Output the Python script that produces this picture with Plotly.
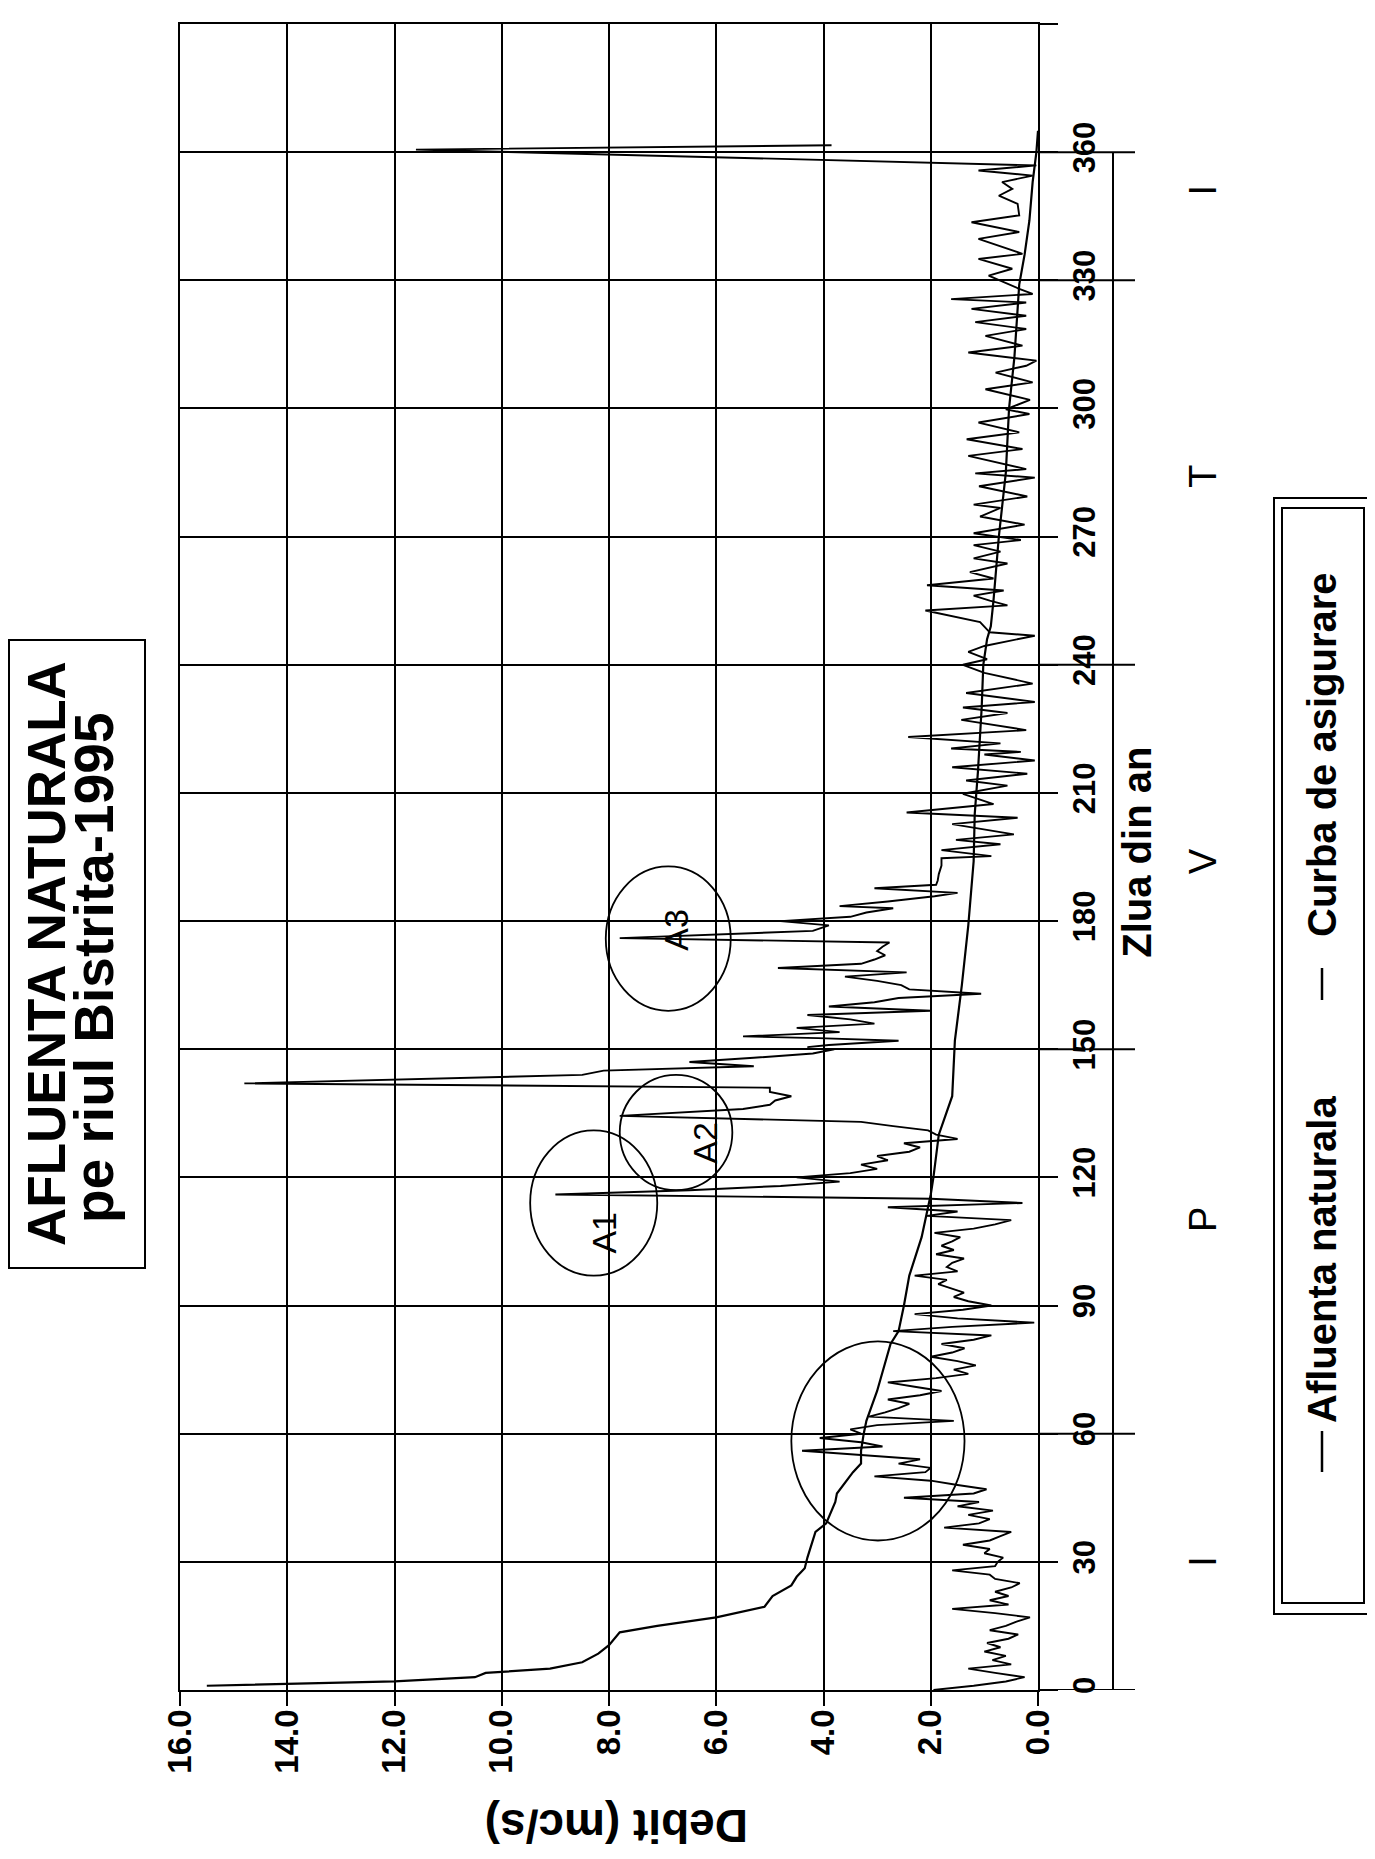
import plotly.graph_objects as go

# ---------------- data ----------------
zile_afluenta = [
    0, 1, 2, 3, 4, 5, 6, 7, 8, 9, 10, 11, 12, 13, 14, 15, 16, 17, 18, 19,
    20, 21, 22, 23, 24, 25, 26, 27, 28, 29, 30, 31, 32, 33, 34, 35, 36, 37, 38, 39,
    40, 41, 42, 43, 44, 45, 46, 47, 48, 49, 50, 51, 52, 53, 54, 55, 56, 57, 58, 59,
    60, 61, 62, 63, 64, 65, 66, 67, 68, 69, 70, 71, 72, 73, 74, 75, 76, 77, 78, 79,
    80, 81, 82, 83, 84, 85, 86, 87, 88, 89, 90, 91, 92, 93, 94, 95, 96, 97, 98, 99,
    100, 101, 102, 103, 104, 105, 106, 107, 108, 109, 110, 111, 112, 113, 114, 115, 116, 117, 118, 119,
    120, 121, 122, 123, 124, 125, 126, 127, 128, 129, 130, 131, 132, 133, 134.4, 136, 137, 138, 139, 140,
    141, 142, 144, 145, 146, 147, 148, 149, 150, 150.5, 151, 152, 152.6, 153, 154, 155, 156, 157, 158, 159,
    160, 161, 162, 163, 164, 165, 166, 167, 168, 169, 170, 171, 172, 173, 174, 175, 176, 177.7, 179, 180,
    181, 182, 183, 183.5, 184.6, 185.8, 186.6, 187.7, 188.5, 189.5, 191, 193, 194.7, 195.2, 196.6, 198, 199, 200.3, 202.7, 204.2,
    205.4, 207.4, 209.8, 211.7, 212.9, 214.5, 216, 217.6, 219, 219.6, 220.4, 221.6, 223.1, 224.7, 227.1, 228.7, 230, 231.3, 233.4, 235.6,
    238.1, 240, 241.3, 243, 244.4, 246.8, 247.6, 250, 252.7, 253.9, 255, 256.2, 257.4, 258.6, 260.2, 261.7, 263.7, 264.9, 266.5, 268,
    269.2, 270.8, 272.8, 274.7, 276.7, 277.5, 279.4, 281.8, 283.8, 284.8, 285.8, 288.9, 290.5, 292.8, 294.4, 296.7, 298.7, 299.8, 302, 304.5,
    306.1, 308.4, 310, 311.2, 313.1, 314.7, 317, 318.6, 320.2, 321.7, 323.3, 324.8, 325.6, 326.8, 328, 331.1, 332.7, 335, 336.2, 339.7,
    341.3, 343.6, 345.2, 347.9, 349.8, 351.4, 353, 354.5, 355.7, 356.9, 360.6, 361.6,
]
debit_afluenta = [
    1.95, 1.2, 0.6, 0.25, 0.8, 1.3, 0.5, 0.85, 0.6, 1.0, 0.7, 0.95, 0.55, 0.37, 0.9, 0.6, 0.4, 0.15, 0.8, 1.6,
    0.55, 0.9, 0.55, 0.8, 0.5, 0.34, 0.8, 0.9, 1.6, 0.8, 0.75, 0.65, 1.0, 0.9, 1.4, 0.9, 0.7, 0.5, 1.75, 1.1,
    0.9, 1.3, 0.84, 1.5, 1.1, 2.5, 1.2, 0.96, 1.5, 2.0, 3.05, 2.1, 2.0, 2.6, 2.2, 3.4, 4.4, 2.9, 3.3, 4.07,
    3.3, 3.5, 3.0, 1.57, 3.15, 2.85, 2.6, 2.4, 2.8, 2.2, 1.8, 2.3, 2.8, 1.9, 1.3, 1.57, 1.16, 1.5, 2.0, 1.6,
    1.37, 1.8, 1.2, 0.87, 2.7, 1.6, 0.07, 1.5, 2.3, 1.4, 0.87, 1.3, 1.57, 1.38, 1.6, 1.86, 1.7, 2.3, 1.5, 1.7,
    1.6, 1.38, 1.9, 1.57, 1.8, 1.6, 1.45, 1.93, 1.2, 0.8, 0.5, 2.07, 1.5, 2.8, 0.29, 2.0, 9.0, 6.5, 4.8, 3.7,
    4.5, 3.5, 3.0, 3.3, 2.8, 3.0, 2.4, 2.2, 2.5, 1.5, 1.9, 2.05, 2.7, 3.3, 7.8, 5.5, 5.0, 4.9, 4.6, 5.0,
    5.0, 14.8, 8.5, 8.1, 5.3, 6.5, 5.3, 4.2, 3.8, 4.3, 3.9, 2.6, 4.1, 5.5, 3.7, 4.5, 3.05, 3.5, 4.3, 2.0,
    3.9, 3.05, 2.6, 1.06, 2.4, 2.55, 3.0, 3.6, 2.45, 4.85, 3.3, 3.05, 2.85, 3.0, 2.9, 2.77, 7.8, 4.2, 3.9, 4.8,
    3.5, 3.2, 2.7, 3.7, 2.8, 1.93, 1.5, 3.05, 1.9, 1.87, 1.85, 1.8, 1.8, 0.87, 1.8, 0.7, 1.53, 0.45, 1.6, 0.38,
    2.45, 0.83, 1.4, 0.57, 1.34, 0.2, 1.6, 0.06, 1.0, 0.32, 1.62, 0.7, 2.42, 0.22, 1.43, 0.57, 1.4, 0.06, 1.34, 0.1,
    1.0, 1.4, 0.95, 1.3, 1.0, 0.06, 0.9, 1.08, 2.1, 0.57, 0.9, 1.2, 0.64, 2.07, 0.83, 1.27, 0.57, 1.2, 0.7, 1.2,
    0.32, 1.2, 0.25, 1.08, 0.7, 1.2, 0.2, 1.1, 0.06, 1.17, 0.22, 1.3, 0.29, 1.33, 0.35, 1.11, 0.16, 0.6, 0.15, 0.98,
    0.1, 0.79, 0.22, 0.03, 1.3, 0.29, 0.98, 0.22, 1.17, 0.22, 1.24, 0.22, 1.62, 0.1, 0.35, 0.92, 0.48, 1.11, 0.29, 1.11,
    0.35, 1.24, 0.35, 0.38, 0.73, 0.48, 0.67, 0.1, 1.11, 0.03, 11.6, 3.85,
]

zile_curba = [1, 2, 3, 4, 5, 6.5, 8.5, 10.5, 13.5, 15, 17, 19.5, 22, 24.5, 26.5, 28.5, 31, 37, 39, 44,
              46, 49, 51, 53, 56, 60, 63, 70, 81, 84, 90, 97, 106, 116, 120, 130, 139, 152, 165, 179,
              194, 205, 215, 230, 240, 246, 249, 255, 270, 285, 300, 312, 329, 336, 344, 353, 360, 365]
debit_curba = [15.5, 12.0, 10.5, 10.3, 9.1, 8.5, 8.2, 8.0, 7.8, 7.1, 6.0, 5.1, 4.95, 4.6, 4.5, 4.35, 4.3, 4.15, 3.95, 3.78,
               3.75, 3.58, 3.45, 3.3, 3.3, 3.25, 3.2, 3.0, 2.75, 2.6, 2.5, 2.4, 2.17, 2.0, 1.95, 1.85, 1.6, 1.55, 1.42, 1.3,
               1.2, 1.18, 1.12, 1.05, 1.02, 0.95, 0.88, 0.83, 0.73, 0.6, 0.54, 0.44, 0.35, 0.25, 0.16, 0.1, 0.03, 0.0]

debit_ticks = [0, 2, 4, 6, 8, 10, 12, 14, 16]
debit_labels = ["0.0", "2.0", "4.0", "6.0", "8.0", "10.0", "12.0", "14.0", "16.0"]
zile_ticks = list(range(0, 391, 30))
zile_labels = [str(v) for v in zile_ticks]

anotimpuri = ["I", "P", "V", "T", "I"]
anotimpuri_zile = [30, 110, 194, 284, 351]
limite_anotimpuri = [0, 60, 150, 240, 330, 360]

# ---------------- layout geometry ----------------
# page has an 8px body margin; figure is sized so the page fits the window
OFF = 8
FW, FH = 1375 - 2 * OFF, 1859 - 2 * OFF
# plot box in page pixels
L, R, T, B = 180, 1038, 24, 1690
FONT = "Liberation Sans, Arial, sans-serif"


def px(x):
    return (x - L) / (R - L)


def py(y):
    return (B - y) / (B - T)


fig = go.Figure()
fig.add_trace(go.Scatter(x=debit_afluenta, y=zile_afluenta, mode="lines",
                         line=dict(color="black", width=1.9), name="Afluenta naturala"))
fig.add_trace(go.Scatter(x=debit_curba, y=zile_curba, mode="lines",
                         line=dict(color="black", width=2.2), name="Curba de asigurare"))

shapes = []
# season bracket
shapes.append(dict(type="line", xref="paper", yref="y", x0=px(1113), x1=px(1113), y0=0, y1=360,
                   line=dict(color="black", width=2)))
for d in limite_anotimpuri:
    shapes.append(dict(type="line", xref="paper", yref="y", x0=px(1038), x1=px(1135), y0=d, y1=d,
                       line=dict(color="black", width=2)))
# ellipses
for (xa, xb, ya, yb) in [(9.47, 7.1, 97, 131), (7.8, 5.7, 117, 144), (8.06, 5.73, 159, 192.8), (4.6, 1.37, 35, 81.6)]:
    shapes.append(dict(type="circle", xref="x", yref="y", x0=xa, x1=xb, y0=ya, y1=yb,
                       line=dict(color="black", width=1.8)))
# title box
shapes.append(dict(type="rect", xref="paper", yref="paper", x0=px(9), x1=px(145), y0=py(1268), y1=py(640),
                   line=dict(color="black", width=2)))
# legend boxes
shapes.append(dict(type="rect", xref="paper", yref="paper", x0=px(1274), x1=px(1390), y0=py(1614), y1=py(498),
                   line=dict(color="black", width=2)))
shapes.append(dict(type="rect", xref="paper", yref="paper", x0=px(1282), x1=px(1364), y0=py(1603), y1=py(508),
                   line=dict(color="black", width=2)))
# legend dashes
for (ya, yb) in [(1431, 1472), (968, 1000)]:
    shapes.append(dict(type="line", xref="paper", yref="paper", x0=px(1322), x1=px(1322), y0=py(ya), y1=py(yb),
                       line=dict(color="black", width=2.5)))


def note(text, x, y, size, angle=-90, xref="paper", yref="paper"):
    return dict(text=text, x=x, y=y, xref=xref, yref=yref, textangle=angle, showarrow=False,
                xanchor="center", yanchor="middle",
                font=dict(family=FONT, size=size, color="black"))


ann = [
    note("<b>AFLUENTA NATURALA</b>", px(46), py(954), 53),
    note("<b>pe riul Bistrita-1995</b>", px(94), py(968), 55),
    note("<b>Debit (mc/s)</b>", px(617), py(1826), 46, angle=180),
    note("<b>Zlua din an</b>", px(1137), 196, 40, yref="y"),
    note("<b>Afluenta naturala</b>", px(1322), py(1260), 40),
    note("<b>Curba de asigurare</b>", px(1322), py(755), 40),
]
for s, d in zip(anotimpuri, anotimpuri_zile):
    ann.append(note(s, px(1203), d, 38, yref="y"))
for s, xv, yv in [("A1", 8.1, 107), ("A2", 6.2, 128), ("A3", 6.75, 178)]:
    ann.append(note(s, xv, yv, 34, xref="x", yref="y"))

fig.update_layout(
    width=FW, height=FH,
    margin=dict(l=L - OFF, r=FW - (R - OFF), t=T - OFF, b=FH - (B - OFF)),
    paper_bgcolor="white", plot_bgcolor="white",
    showlegend=False,
    shapes=shapes, annotations=ann,
    xaxis=dict(range=[16, 0], tickvals=debit_ticks, ticktext=debit_labels, tickangle=-90,
               tickfont=dict(family=FONT, size=33, color="black", weight="bold"),
               ticks="outside", ticklen=14, tickwidth=2, tickcolor="black", ticklabelstandoff=-10,
               showgrid=True, gridcolor="black", gridwidth=2.4, zeroline=False,
               showline=True, linecolor="black", linewidth=2.4, mirror=True),
    yaxis=dict(range=[0, 390], side="right", tickvals=zile_ticks, ticktext=zile_labels, tickangle=-90,
               tickfont=dict(family=FONT, size=31, color="black", weight="bold"),
               ticks="outside", ticklen=18, tickwidth=2, tickcolor="black",
               showgrid=True, gridcolor="black", gridwidth=2.4, zeroline=False,
               showline=True, linecolor="black", linewidth=2.4, mirror=True),
)

fig.write_html("out.html")
